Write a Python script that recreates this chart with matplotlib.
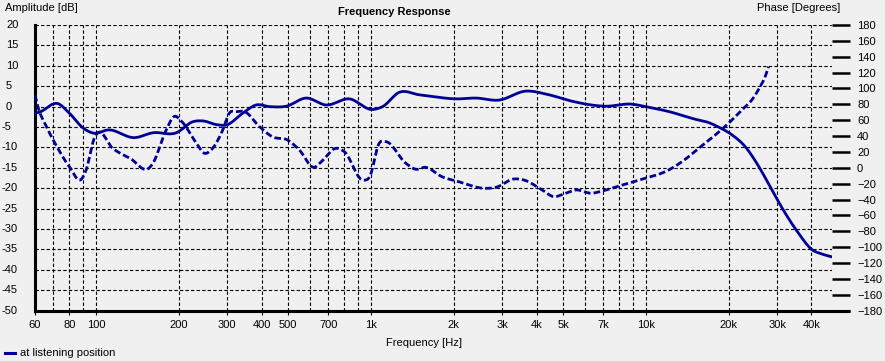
import numpy as np
import matplotlib
matplotlib.use("Agg")
import matplotlib.pyplot as plt
from matplotlib import transforms

# Amplitude response (left axis, dB)
amp_freq = [60, 62, 73, 80, 90, 98, 111, 138, 161, 196, 225, 245, 274, 298,
            342, 382, 428, 492, 581, 687, 834, 1013, 1102, 1267, 1497, 1700,
            2036, 2406, 2921, 3655, 4439, 5400, 7130, 8920, 9960, 12100,
            15130, 16900, 18370, 20540, 22960, 25690, 28710, 32100, 35870,
            40100, 43600, 47400]
amp_db = [-1.6, -1.4, 0.7, -1.6, -5.3, -6.5, -5.7, -7.6, -6.4, -6.4, -3.7,
          -3.5, -4.4, -4.5, -1.6, 0.4, 0.0, 0.1, 2.1, 0.4, 1.9, -0.7, 0.0,
          3.5, 2.9, 2.4, 1.9, 2.1, 1.6, 3.8, 2.9, 1.3, 0.1, 0.6, 0.0, -1.2,
          -3.1, -3.9, -5.0, -6.9, -9.8, -14.6, -20.4, -26.1, -31.0, -35.0,
          -36.1, -36.8]

# Phase response (right axis, degrees)
ph_freq = [60, 61.5, 66, 72, 80, 88.7, 92, 99, 101, 115, 133, 157, 161, 180,
           193, 203, 232, 248, 262, 289, 305, 325, 347, 393, 439, 498, 549,
           622, 660, 746, 800, 933, 990, 1071, 1133, 1340, 1457, 1577, 1811,
           2083, 2604, 2850, 3311, 3600, 4195, 4625, 5000, 5545, 6370, 6800,
           7980, 9420, 12100, 13900, 15550, 17870, 19950, 22330, 24270,
           26020, 27150, 27900]
ph_deg = [92, 77, 52, 27, 1.5, -14, -3, 39, 43.5, 24.6, 12, 0.7, 5.7, 47.7,
          65, 60, 31, 18.3, 22.5, 47.7, 68.7, 70.8, 70.8, 52, 39, 35, 22.5,
          0.7, 7.8, 24.6, 20.4, -15.3, -11, 31, 33, 5.7, -1.8, 0.7, -11.1,
          -17.4, -25.8, -24.5, -14, -15.3, -27.9, -36.3, -33.3, -27.9, -32,
          -30, -22.9, -15.3, -2.7, 10.8, 24.6, 41.4, 56, 73, 85.5, 102.3,
          115, 127.5]

amp_ticks = list(range(-50, 25, 5))
ph_ticks = list(range(-180, 200, 20))
x_grid = [60, 70, 80, 90, 100, 200, 300, 400, 500, 600, 700, 800, 900,
          1000, 2000, 3000, 4000, 5000, 6000, 7000, 8000, 9000, 10000,
          20000, 30000, 40000]
x_labels = {60: "60", 80: "80", 100: "100", 200: "200", 300: "300",
            400: "400", 500: "500", 700: "700", 1000: "1k", 2000: "2k",
            3000: "3k", 4000: "4k", 5000: "5k", 7000: "7k", 10000: "10k",
            20000: "20k", 30000: "30k", 40000: "40k"}


def smooth_log(fx, fy, n=600):
    # cubic hermite through the read points, on log frequency
    lx = np.log10(fx)
    xs = np.linspace(lx[0], lx[-1], n)
    y = np.asarray(fy, float)
    h = np.diff(lx)
    d = np.diff(y) / h
    m = np.zeros_like(y)
    m[1:-1] = (d[:-1] * h[1:] + d[1:] * h[:-1]) / (h[:-1] + h[1:])
    m[0], m[-1] = d[0], d[-1]
    idx = np.clip(np.searchsorted(lx, xs) - 1, 0, len(lx) - 2)
    t = (xs - lx[idx]) / h[idx]
    h00 = 2 * t**3 - 3 * t**2 + 1
    h10 = t**3 - 2 * t**2 + t
    h01 = -2 * t**3 + 3 * t**2
    h11 = t**3 - t**2
    ys = (h00 * y[idx] + h10 * h[idx] * m[idx] + h01 * y[idx + 1]
          + h11 * h[idx] * m[idx + 1])
    return 10**xs, ys


plt.rcParams['font.family'] = ['Liberation Sans', 'DejaVu Sans']
FS = 8

W, H = 885, 361
bg = "#F0F0F0"
navy = "#000094"
fig = plt.figure(figsize=(W / 100, H / 100), dpi=100, facecolor=bg)
ax = fig.add_axes([35 / W, 1 - 310.7 / H, (832 - 35) / W, (310.7 - 25) / H])
ax.set_facecolor(bg)
ax.set_xscale("log")
ax.set_xlim(60, 47500)
ax.set_ylim(-50, 20)

for f in x_grid:
    ax.axvline(f, color="black", lw=0.8, ls=(0, (3, 2)), zorder=1)
for v in amp_ticks:
    ax.axhline(v, color="black", lw=0.8, ls=(0, (3, 2)), zorder=1)

fx, fy = smooth_log(amp_freq, amp_db)
ax.plot(fx, fy, color=navy, lw=2.0, zorder=3)

ax2 = ax.twinx()
ax2.set_ylim(-180, 180)
px, py = smooth_log(ph_freq, ph_deg)
ax2.plot(px, py, color=navy, lw=2.0, dashes=(2.4, 1.1), zorder=3)

for a in (ax, ax2):
    for s in a.spines.values():
        s.set_visible(False)

ax.spines["left"].set_visible(True)
ax.spines["left"].set_linewidth(2.2)
ax.spines["bottom"].set_visible(True)
ax.spines["bottom"].set_linewidth(2.2)
# bottom line runs on under the phase ticks
ax.plot([1, 1.022], [0, 0], transform=ax.transAxes, color="black",
        lw=2.2, clip_on=False, solid_capstyle="butt")

ax.set_xticks(list(x_labels.keys()))
ax.set_xticklabels(list(x_labels.values()))
ax.xaxis.set_minor_locator(matplotlib.ticker.NullLocator())
ax.tick_params(axis="x", length=3, width=0.8, pad=4, labelsize=FS)

ax.set_yticks(amp_ticks)
ax.set_yticklabels([])
ax.tick_params(axis="y", length=0)
tr = transforms.blended_transform_factory(fig.transFigure, ax.transData)
for v in amp_ticks:
    xp = 6 if v >= 0 else 1
    ax.text(xp / W, v, str(v), transform=tr, ha="left", va="center",
            fontsize=FS)

ax2.set_yticks(ph_ticks)
ax2.tick_params(axis="y", length=13, width=1.8, pad=5, labelsize=FS)

fig.text(5 / W, 1 - 8 / H, "Amplitude [dB]", ha="left", va="center",
         fontsize=FS)
fig.text(840 / W, 1 - 8 / H, "Phase [Degrees]", ha="right", va="center",
         fontsize=FS)
fig.text(394 / W, 1 - 12 / H, "Frequency Response", ha="center",
         va="center", fontsize=FS, fontweight="bold")
fig.text(424 / W, 1 - 343 / H, "Frequency [Hz]", ha="center", va="center",
         fontsize=FS)
fig.add_artist(plt.Line2D([5 / W, 15 / W], [1 - 353 / H, 1 - 353 / H],
                          color=navy, lw=2.2))
fig.text(20 / W, 1 - 353 / H, "at listening position", ha="left",
         va="center", fontsize=FS)

fig.savefig("out.png", dpi=100, facecolor=bg)
